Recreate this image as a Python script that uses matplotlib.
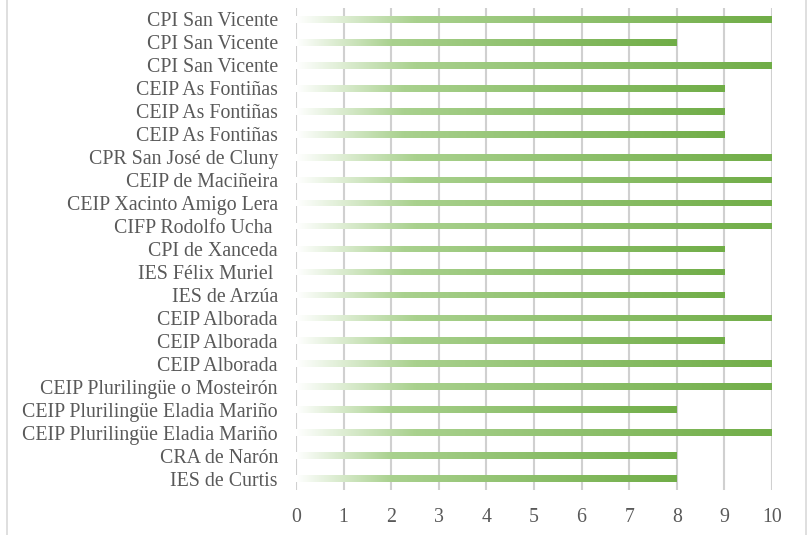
import matplotlib
matplotlib.use("Agg")
import matplotlib.pyplot as plt
import numpy as np
from matplotlib.colors import LinearSegmentedColormap
from matplotlib.lines import Line2D

labels = [
    "CPI San Vicente", "CPI San Vicente", "CPI San Vicente",
    "CEIP As Fontiñas", "CEIP As Fontiñas", "CEIP As Fontiñas",
    "CPR San José de Cluny", "CEIP de Maciñeira", "CEIP Xacinto Amigo Lera",
    "CIFP Rodolfo Ucha ", "CPI de Xanceda", "IES Félix Muriel ",
    "IES de Arzúa", "CEIP Alborada", "CEIP Alborada", "CEIP Alborada",
    "CEIP Plurilingüe o Mosteirón", "CEIP Plurilingüe Eladia Mariño",
    "CEIP Plurilingüe Eladia Mariño", "CRA de Narón", "IES de Curtis",
]
values = [10, 8, 10, 9, 9, 9, 10, 10, 10, 10, 9, 9, 9, 10, 9, 10, 10, 8, 10, 8, 8]
xticks = list(range(0, 11))

plt.rcParams['font.family'] = ['Liberation Serif', 'DejaVu Serif']

fig = plt.figure(figsize=(8.11, 5.35), dpi=100)
W, H = 811, 535
ax = fig.add_axes([296 / W, 1 - 490 / H, (772 - 296) / W, (490 - 8) / H])

n = len(labels)
pos = np.arange(n)[::-1]  # top to bottom
bar_h = 0.29

cmap = LinearSegmentedColormap.from_list(
    "g", [(0.0, "#ffffff"), (0.25, "#a9d18e"), (1.0, "#70ad47")])
grad = np.linspace(0, 1, 256).reshape(1, -1)

bars = ax.barh(pos, values, height=bar_h, color="none", edgecolor="none", zorder=2)
for b, v in zip(bars, values):
    y0 = b.get_y()
    im = ax.imshow(grad, cmap=cmap, aspect="auto",
                   extent=[0, v, y0, y0 + bar_h], zorder=2, interpolation="bilinear")
    im.set_clip_path(b)

ax.set_xlim(0, 10)
ax.set_ylim(-0.5, n - 0.5)
ax.set_xticks(xticks)
ax.set_xticklabels([str(t) for t in xticks])
ax.set_yticks(pos)
ax.set_yticklabels(labels)

ax.grid(axis="x", color="#d0d0d0", linewidth=1.5, zorder=0)
ax.set_axisbelow(True)
for s in ax.spines.values():
    s.set_visible(False)
ax.tick_params(axis="both", length=0, labelsize=14.3, labelcolor="#595959")
ax.tick_params(axis="y", pad=13)
ax.tick_params(axis="x", pad=13)

# figure border (left/right)
fig.add_artist(Line2D([7 / W, 7 / W], [0, 1], color="#d9d9d9", linewidth=1.2))
fig.add_artist(Line2D([806 / W, 806 / W], [0, 1], color="#d9d9d9", linewidth=1.2))

fig.savefig("out.png", dpi=100)
